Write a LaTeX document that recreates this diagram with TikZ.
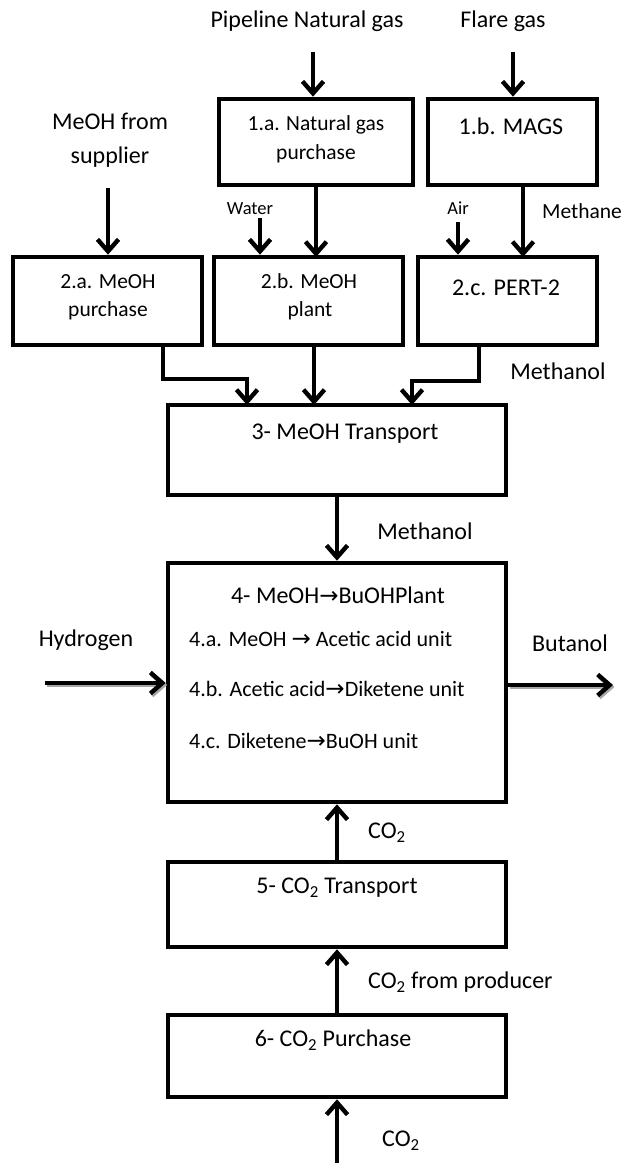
\documentclass[tikz,border=0pt]{standalone}
\usepackage{fontspec}
\setmainfont{Carlito}
\newfontfamily\symf{DejaVu Sans}
\usetikzlibrary{arrows.meta}
\newcommand{\ar}{{\symf\fontsize{23}{26}\selectfont →}}
\tikzset{
  box/.style={draw=black, line width=4.6pt, rectangle, inner sep=0pt},
  flow/.style={line width=4.4pt, -{Straight Barb[length=12pt,width=21pt,line width=4.4pt]}},
  shadowflow/.style={line width=4.4pt, draw=black!35, -{Straight Barb[length=12pt,width=21pt,line width=4.4pt]}},
  big/.style={font=\fontsize{24}{28}\selectfont, inner sep=0pt, anchor=mid, yshift=-4pt},
  mid22/.style={font=\fontsize{21.5}{26}\selectfont, inner sep=0pt, anchor=mid, yshift=-4pt},
  small/.style={font=\fontsize{18.5}{22}\selectfont, inner sep=0pt, anchor=mid, yshift=-3pt},
  lbig/.style={font=\fontsize{24}{28}\selectfont, inner sep=0pt, anchor=mid west, yshift=-4pt},
  lsub/.style={font=\fontsize{22}{26}\selectfont, inner sep=0pt, anchor=mid west, yshift=-4pt},
}
\begin{document}
\begin{tikzpicture}[x=1pt,y=-1pt]
\useasboundingbox (0,0) rectangle (623,1163);
% boxes
\node[box, minimum width=194pt, minimum height=86pt] (b1a) at (316,142) {};
\node[box, minimum width=169pt, minimum height=86pt] (b1b) at (512.5,142) {};
\node[box, minimum width=189pt, minimum height=88pt] (b2a) at (107.5,301) {};
\node[box, minimum width=189pt, minimum height=88pt] (b2b) at (308.5,301) {};
\node[box, minimum width=179pt, minimum height=88pt] (b2c) at (507.5,301) {};
\node[box, minimum width=338pt, minimum height=90pt] (b3) at (337,450) {};
\node[box, minimum width=338pt, minimum height=239pt] (b4) at (337,682.5) {};
\node[box, minimum width=338pt, minimum height=85pt] (b5) at (337,904.5) {};
\node[box, minimum width=338pt, minimum height=82pt] (b6) at (337,1056) {};
% box texts
\node[mid22] (t1a1) at (316,124) {1.a. Natural gas};
\node[mid22] (t1a2) at (316,153) {purchase};
\node[big] (t1b) at (511,128) {1.b. MAGS};
\node[mid22] (t2a1) at (108,282) {2.a. MeOH};
\node[mid22] (t2a2) at (108,310) {purchase};
\node[mid22] (t2b1) at (309,282) {2.b. MeOH};
\node[mid22] (t2b2) at (310,310) {plant};
\node[big] (t2c) at (506,289) {2.c. PERT-2};
\node[big] (t3) at (345,433) {3- MeOH Transport};
\node[big] (t4) at (338,597) {4- MeOH\ar BuOHPlant};
\node[lsub] (t4a) at (189,640) {4.a. MeOH \ar{} Acetic acid unit};
\node[lsub] (t4b) at (189,690) {4.b. Acetic acid\ar Diketene unit};
\node[lsub] (t4c) at (189,742) {4.c. Diketene\ar BuOH unit};
\node[big] (t5) at (337,887) {5- CO\textsubscript{2} Transport};
\node[big] (t6) at (333,1040) {6- CO\textsubscript{2} Purchase};
% outside labels
\node[big] (lpipe) at (307,21) {Pipeline Natural gas};
\node[big] (lflare) at (503,21) {Flare gas};
\node[big] (lsup1) at (110,123) {MeOH from};
\node[big] (lsup2) at (110,157) {supplier};
\node[small] (lwater) at (250,209) {Water};
\node[small] (lair) at (458,209) {Air};
\node[mid22] (lmethane) at (582,212) {Methane};
\node[big] (lmeth1) at (558,373) {Methanol};
\node[big] (lmeth2) at (425,533) {Methanol};
\node[big] (lhyd) at (86,640) {Hydrogen};
\node[big] (lbut) at (570,645) {Butanol};
\node[lbig] (lco2a) at (368,832) {CO\textsubscript{2}};
\node[lbig] (lco2b) at (368,982) {CO\textsubscript{2} from producer};
\node[lbig] (lco2c) at (382,1140) {CO\textsubscript{2}};
% free-end coordinates
\coordinate (spipe) at (313,52);
\coordinate (sflare) at (513,52);
\coordinate (ssup) at (108,188);
\coordinate (swater) at (260,218);
\coordinate (sair) at (458,222);
\coordinate (shyd) at (45,683);
\coordinate (ebut) at (613,685);
\coordinate (sco2) at (337,1163);
% arrows
\draw[flow] (spipe) -- (spipe |- b1a.north);
\draw[flow] (sflare) -- (sflare |- b1b.north);
\draw[flow] (ssup) -- (ssup |- b2a.north);
\draw[flow] (swater) -- (swater |- b2b.north);
\draw[flow] (316,185) -- (316,257);
\draw[flow] (sair) -- (sair |- b2c.north);
\draw[flow] (523,185) -- (523,257);
\draw[flow] (163,345) -- (163,379) -- (247,379) -- (247,405);
\draw[flow] (314,345) -- (314,405);
\draw[flow] (479,345) -- (479,381) -- (412,381) -- (412,405);
\draw[flow] (b3.south) -- (b4.north);
\draw[shadowflow] ([shift={(1.5,2)}]shyd) -- ([shift={(1.5,2)}]shyd -| b4.west);
\draw[flow] (shyd) -- (shyd -| b4.west);
\draw[shadowflow] ([shift={(1.5,2)}]b4.east |- ebut) -- ([shift={(1.5,2)}]ebut);
\draw[flow] (b4.east |- ebut) -- (ebut);
\draw[flow] (b5.north) -- (b4.south);
\draw[flow] (b6.north) -- (b5.south);
\draw[flow] (sco2) -- (b6.south);
\end{tikzpicture}
\end{document}
